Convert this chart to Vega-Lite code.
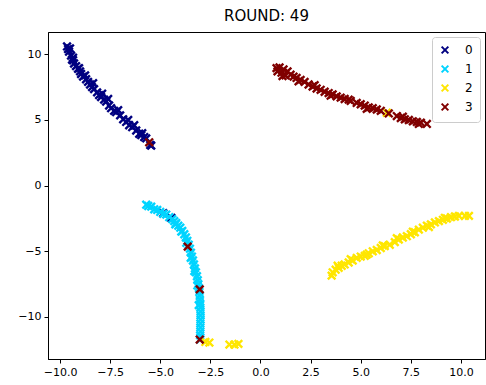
{
  "$schema": "https://vega.github.io/schema/vega-lite/v6.json",
  "width": 437,
  "height": 327,
  "autosize": {"type": "none"},
  "padding": {"left": 48, "top": 32, "right": 1, "bottom": 26},
  "title": {"text": "ROUND: 49", "fontSize": 15, "font": "DejaVu Sans", "fontWeight": "normal", "offset": 8, "color": "black"},
  "config": {
    "view": {"stroke": "black", "strokeWidth": 1},
    "axis": {"grid": false, "domainColor": "black", "tickColor": "black", "labelColor": "black", "labelFont": "DejaVu Sans", "labelFontSize": 11, "tickSize": 4, "labelPadding": 3}
  },
  "data": {"values": [
    {"x": -9.65, "y": 10.6, "c": "0"}, {"x": -9.6, "y": 10.4, "c": "0"}, {"x": -9.55, "y": 10.2, "c": "0"}, {"x": -9.5, "y": 10.45, "c": "0"},
    {"x": -9.45, "y": 9.9, "c": "0"}, {"x": -9.4, "y": 9.6, "c": "0"}, {"x": -9.35, "y": 9.75, "c": "0"}, {"x": -9.3, "y": 9.3, "c": "0"},
    {"x": -9.2, "y": 9.1, "c": "0"}, {"x": -9.1, "y": 8.9, "c": "0"}, {"x": -9.0, "y": 8.7, "c": "0"}, {"x": -8.95, "y": 8.5, "c": "0"},
    {"x": -8.85, "y": 8.3, "c": "0"}, {"x": -8.7, "y": 8.1, "c": "0"}, {"x": -8.6, "y": 7.9, "c": "0"}, {"x": -8.5, "y": 7.7, "c": "0"},
    {"x": -8.4, "y": 7.5, "c": "0"}, {"x": -8.3, "y": 7.35, "c": "0"}, {"x": -8.15, "y": 7.1, "c": "0"}, {"x": -8.05, "y": 6.9, "c": "0"},
    {"x": -7.95, "y": 6.75, "c": "0"}, {"x": -7.8, "y": 6.55, "c": "0"}, {"x": -7.7, "y": 6.4, "c": "0"}, {"x": -7.55, "y": 6.1, "c": "0"},
    {"x": -7.45, "y": 5.9, "c": "0"}, {"x": -7.3, "y": 5.7, "c": "0"}, {"x": -7.2, "y": 5.6, "c": "0"}, {"x": -7.0, "y": 5.35, "c": "0"},
    {"x": -6.85, "y": 5.05, "c": "0"}, {"x": -6.7, "y": 4.85, "c": "0"}, {"x": -6.55, "y": 4.6, "c": "0"}, {"x": -6.4, "y": 4.45, "c": "0"},
    {"x": -6.2, "y": 4.2, "c": "0"}, {"x": -6.05, "y": 3.95, "c": "0"}, {"x": -5.95, "y": 3.85, "c": "0"}, {"x": -5.8, "y": 3.7, "c": "0"},
    {"x": -5.7, "y": 3.6, "c": "0"}, {"x": -5.5, "y": 3.1, "c": "0"}, {"x": -5.45, "y": 3.05, "c": "0"},
    {"x": -9.35, "y": 9.55, "c": "0"}, {"x": -9.05, "y": 8.95, "c": "0"}, {"x": -8.75, "y": 8.4, "c": "0"}, {"x": -8.35, "y": 7.8, "c": "0"},
    {"x": -7.9, "y": 7.0, "c": "0"}, {"x": -7.6, "y": 6.6, "c": "0"}, {"x": -7.1, "y": 5.75, "c": "0"}, {"x": -6.6, "y": 5.0, "c": "0"},
    {"x": -6.3, "y": 4.6, "c": "0"}, {"x": -5.9, "y": 4.0, "c": "0"},
    {"x": -4.85, "y": -2.1, "c": "0"}, {"x": -4.45, "y": -2.45, "c": "0"},
    {"x": -5.7, "y": -1.45, "c": "1"}, {"x": -5.6, "y": -1.55, "c": "1"}, {"x": -5.45, "y": -1.6, "c": "1"}, {"x": -5.3, "y": -1.8, "c": "1"},
    {"x": -5.15, "y": -1.85, "c": "1"}, {"x": -5.0, "y": -2.0, "c": "1"}, {"x": -4.85, "y": -2.15, "c": "1"}, {"x": -4.7, "y": -2.2, "c": "1"},
    {"x": -4.55, "y": -2.4, "c": "1"}, {"x": -4.4, "y": -2.55, "c": "1"}, {"x": -4.3, "y": -2.7, "c": "1"}, {"x": -4.2, "y": -2.85, "c": "1"},
    {"x": -4.1, "y": -3.05, "c": "1"}, {"x": -4.0, "y": -3.2, "c": "1"}, {"x": -3.9, "y": -3.45, "c": "1"}, {"x": -3.8, "y": -3.7, "c": "1"},
    {"x": -3.72, "y": -3.95, "c": "1"}, {"x": -3.65, "y": -4.2, "c": "1"}, {"x": -3.58, "y": -4.5, "c": "1"}, {"x": -3.52, "y": -4.8, "c": "1"},
    {"x": -3.47, "y": -5.1, "c": "1"}, {"x": -3.42, "y": -5.4, "c": "1"}, {"x": -3.37, "y": -5.7, "c": "1"}, {"x": -3.32, "y": -6.0, "c": "1"},
    {"x": -3.27, "y": -6.3, "c": "1"}, {"x": -3.22, "y": -6.6, "c": "1"}, {"x": -3.17, "y": -6.9, "c": "1"}, {"x": -3.13, "y": -7.2, "c": "1"},
    {"x": -3.1, "y": -7.5, "c": "1"}, {"x": -3.07, "y": -7.8, "c": "1"}, {"x": -3.05, "y": -8.1, "c": "1"}, {"x": -3.03, "y": -8.4, "c": "1"},
    {"x": -3.02, "y": -8.7, "c": "1"}, {"x": -3.0, "y": -9.0, "c": "1"}, {"x": -3.0, "y": -9.3, "c": "1"}, {"x": -2.99, "y": -9.6, "c": "1"},
    {"x": -2.99, "y": -9.9, "c": "1"}, {"x": -2.99, "y": -10.2, "c": "1"}, {"x": -3.0, "y": -10.5, "c": "1"}, {"x": -3.0, "y": -10.8, "c": "1"},
    {"x": -3.0, "y": -11.1, "c": "1"}, {"x": -3.01, "y": -11.4, "c": "1"}, {"x": -3.0, "y": -11.7, "c": "1"},
    {"x": -4.25, "y": -2.95, "c": "1"}, {"x": -3.95, "y": -3.5, "c": "1"}, {"x": -3.7, "y": -4.35, "c": "1"}, {"x": -3.48, "y": -5.5, "c": "1"},
    {"x": -3.3, "y": -6.5, "c": "1"}, {"x": -3.15, "y": -7.6, "c": "1"}, {"x": -3.08, "y": -9.1, "c": "1"},
    {"x": -2.75, "y": -11.9, "c": "2"}, {"x": -2.55, "y": -11.95, "c": "2"}, {"x": -1.55, "y": -12.1, "c": "2"}, {"x": -1.3, "y": -12.1, "c": "2"},
    {"x": -1.1, "y": -12.05, "c": "2"}, {"x": 6.3, "y": 5.55, "c": "2"},
    {"x": 3.55, "y": -6.85, "c": "2"}, {"x": 3.6, "y": -6.6, "c": "2"}, {"x": 3.75, "y": -6.4, "c": "2"}, {"x": 3.9, "y": -6.25, "c": "2"},
    {"x": 4.05, "y": -6.1, "c": "2"}, {"x": 4.2, "y": -6.0, "c": "2"}, {"x": 4.4, "y": -5.85, "c": "2"}, {"x": 4.6, "y": -5.7, "c": "2"},
    {"x": 4.8, "y": -5.5, "c": "2"}, {"x": 5.0, "y": -5.4, "c": "2"}, {"x": 5.2, "y": -5.35, "c": "2"}, {"x": 5.4, "y": -5.15, "c": "2"},
    {"x": 5.6, "y": -5.0, "c": "2"}, {"x": 5.8, "y": -4.9, "c": "2"}, {"x": 6.0, "y": -4.75, "c": "2"}, {"x": 6.2, "y": -4.6, "c": "2"},
    {"x": 6.45, "y": -4.5, "c": "2"}, {"x": 6.7, "y": -4.3, "c": "2"}, {"x": 6.9, "y": -4.1, "c": "2"}, {"x": 7.1, "y": -3.95, "c": "2"},
    {"x": 7.3, "y": -3.85, "c": "2"}, {"x": 7.5, "y": -3.7, "c": "2"}, {"x": 7.7, "y": -3.55, "c": "2"}, {"x": 7.9, "y": -3.35, "c": "2"},
    {"x": 8.1, "y": -3.2, "c": "2"}, {"x": 8.3, "y": -3.05, "c": "2"}, {"x": 8.5, "y": -2.95, "c": "2"}, {"x": 8.7, "y": -2.8, "c": "2"},
    {"x": 8.9, "y": -2.7, "c": "2"}, {"x": 9.1, "y": -2.6, "c": "2"}, {"x": 9.3, "y": -2.5, "c": "2"}, {"x": 9.5, "y": -2.4, "c": "2"},
    {"x": 9.7, "y": -2.35, "c": "2"}, {"x": 9.9, "y": -2.3, "c": "2"}, {"x": 10.2, "y": -2.3, "c": "2"}, {"x": 10.4, "y": -2.3, "c": "2"},
    {"x": 3.85, "y": -6.1, "c": "2"}, {"x": 4.5, "y": -5.6, "c": "2"}, {"x": 5.3, "y": -5.25, "c": "2"}, {"x": 6.1, "y": -4.55, "c": "2"},
    {"x": 6.8, "y": -4.0, "c": "2"}, {"x": 7.6, "y": -3.5, "c": "2"}, {"x": 8.4, "y": -3.15, "c": "2"}, {"x": 9.2, "y": -2.45, "c": "2"},
    {"x": -5.55, "y": 3.3, "c": "3"}, {"x": -3.63, "y": -4.64, "c": "3"}, {"x": -3.03, "y": -7.9, "c": "3"}, {"x": -3.03, "y": -11.72, "c": "3"},
    {"x": 0.8, "y": 8.95, "c": "3"}, {"x": 0.85, "y": 8.7, "c": "3"}, {"x": 0.95, "y": 9.0, "c": "3"}, {"x": 1.05, "y": 8.6, "c": "3"},
    {"x": 1.15, "y": 8.85, "c": "3"}, {"x": 1.25, "y": 8.4, "c": "3"}, {"x": 1.35, "y": 8.7, "c": "3"}, {"x": 1.5, "y": 8.45, "c": "3"},
    {"x": 1.65, "y": 8.3, "c": "3"}, {"x": 1.8, "y": 8.2, "c": "3"}, {"x": 2.0, "y": 8.05, "c": "3"}, {"x": 2.2, "y": 7.9, "c": "3"},
    {"x": 2.4, "y": 7.7, "c": "3"}, {"x": 2.6, "y": 7.55, "c": "3"}, {"x": 2.8, "y": 7.4, "c": "3"}, {"x": 3.0, "y": 7.3, "c": "3"},
    {"x": 3.2, "y": 7.15, "c": "3"}, {"x": 3.4, "y": 7.05, "c": "3"}, {"x": 3.6, "y": 6.95, "c": "3"}, {"x": 3.8, "y": 6.8, "c": "3"},
    {"x": 4.0, "y": 6.7, "c": "3"}, {"x": 4.2, "y": 6.6, "c": "3"}, {"x": 4.5, "y": 6.45, "c": "3"}, {"x": 4.8, "y": 6.3, "c": "3"},
    {"x": 5.0, "y": 6.2, "c": "3"}, {"x": 5.2, "y": 6.1, "c": "3"}, {"x": 5.4, "y": 5.95, "c": "3"}, {"x": 5.6, "y": 5.9, "c": "3"},
    {"x": 5.8, "y": 5.8, "c": "3"}, {"x": 6.0, "y": 5.7, "c": "3"}, {"x": 6.4, "y": 5.5, "c": "3"}, {"x": 6.8, "y": 5.3, "c": "3"},
    {"x": 7.0, "y": 5.15, "c": "3"}, {"x": 7.2, "y": 5.05, "c": "3"}, {"x": 7.4, "y": 5.0, "c": "3"}, {"x": 7.6, "y": 4.9, "c": "3"},
    {"x": 7.8, "y": 4.85, "c": "3"}, {"x": 8.0, "y": 4.8, "c": "3"}, {"x": 8.3, "y": 4.7, "c": "3"},
    {"x": 1.1, "y": 8.35, "c": "3"}, {"x": 1.9, "y": 7.95, "c": "3"}, {"x": 2.7, "y": 7.65, "c": "3"}, {"x": 3.5, "y": 6.85, "c": "3"},
    {"x": 4.4, "y": 6.55, "c": "3"}, {"x": 5.3, "y": 5.85, "c": "3"}, {"x": 7.1, "y": 5.25, "c": "3"}, {"x": 7.9, "y": 4.7, "c": "3"}
  ]},
  "mark": {"type": "point", "shape": "M-1,-1L1,1M1,-1L-1,1", "filled": false, "strokeWidth": 2.4, "size": 58, "opacity": 1},
  "encoding": {
    "x": {"field": "x", "type": "quantitative", "scale": {"domain": [-10.6, 11.2], "nice": false, "zero": false},
      "axis": {"title": null, "values": [-10, -7.5, -5, -2.5, 0, 2.5, 5, 7.5, 10], "format": ".1f"}},
    "y": {"field": "y", "type": "quantitative", "scale": {"domain": [-13.2, 11.7], "nice": false, "zero": false},
      "axis": {"title": null, "values": [-10, -5, 0, 5, 10], "format": "d"}},
    "color": {"field": "c", "type": "nominal",
      "scale": {"domain": ["0", "1", "2", "3"], "range": ["#000080", "#00d4ff", "#ffe600", "#800000"]},
      "legend": {"title": null, "orient": "top-right", "offset": 5, "strokeColor": "#cccccc", "fillColor": "white", "cornerRadius": 3, "padding": 7,
        "symbolType": "M-1,-1L1,1M1,-1L-1,1", "symbolStrokeWidth": 2, "symbolSize": 45, "labelFontSize": 12, "labelFont": "DejaVu Sans", "labelColor": "black", "rowPadding": 3, "labelOffset": 14}}
  }
}
